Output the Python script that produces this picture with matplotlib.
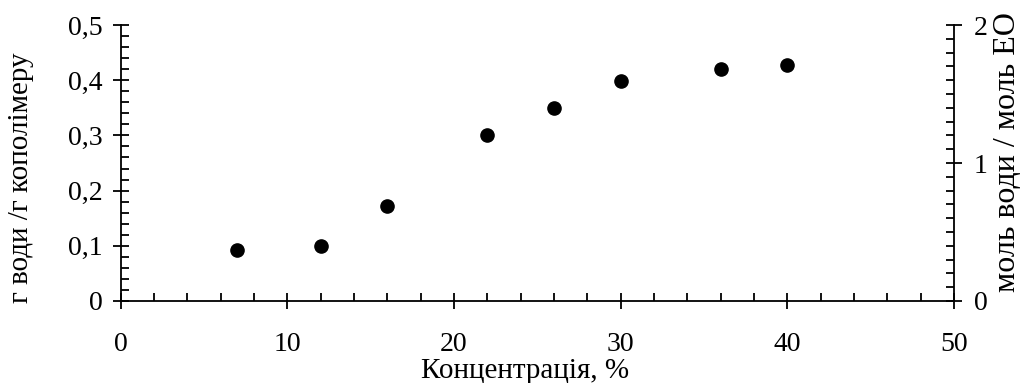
import matplotlib
matplotlib.use("Agg")
import matplotlib.pyplot as plt
from matplotlib.ticker import MultipleLocator, FuncFormatter

# Data
concentration = [7, 12, 16, 22, 26, 30, 36, 40]
water_per_copolymer = [0.092, 0.100, 0.172, 0.300, 0.350, 0.399, 0.420, 0.427]

x_label = "Концентрація, %"
left_label = "г води /г кополімеру"
right_label = "моль води / моль ЕО"

plt.rcParams['font.family'] = ['Liberation Serif', 'DejaVu Serif']
plt.rcParams['font.size'] = 20

fig = plt.figure(figsize=(10.24, 3.83), dpi=100)
ax = fig.add_axes([0.1177, 0.2141, 0.8140, 0.7206])
ax2 = ax.twinx()

ax.plot(concentration, water_per_copolymer, 'o', color='black', markersize=9.5)

ax.set_xlim(0, 50)
ax.set_ylim(0, 0.5)
ax2.set_ylim(0, 2)

for a in (ax, ax2):
    a.spines['top'].set_visible(False)
    for s in a.spines.values():
        s.set_linewidth(1.3)
ax.spines['right'].set_visible(False)
ax2.spines['left'].set_visible(False)
ax2.spines['bottom'].set_visible(False)

ax.xaxis.set_major_locator(MultipleLocator(10))
ax.xaxis.set_minor_locator(MultipleLocator(2))
ax.yaxis.set_major_locator(MultipleLocator(0.1))
ax.yaxis.set_minor_locator(MultipleLocator(0.02))
ax2.yaxis.set_major_locator(MultipleLocator(1))
ax2.yaxis.set_minor_locator(MultipleLocator(0.1))

comma = FuncFormatter(lambda v, p: ('%g' % round(v, 3)).replace('.', ','))
ax.yaxis.set_major_formatter(comma)
ax2.yaxis.set_major_formatter(comma)

ax.tick_params(axis='x', which='major', direction='inout', length=12, width=1.3, pad=16)
ax.tick_params(axis='y', which='major', direction='inout', length=12, width=1.3, pad=7)
ax.tick_params(which='minor', direction='in', length=5.5, width=1.3)
ax.tick_params(top=False, right=False, which='both')
ax2.tick_params(axis='y', which='major', direction='inout', length=12, width=1.3, pad=8)
ax2.tick_params(axis='y', which='minor', direction='in', length=5.5, width=1.3)

ax.set_xlabel(x_label, fontsize=21)
ax.xaxis.set_label_coords(0.4853, -0.205)
ax.set_ylabel(left_label, fontsize=21)
ax.yaxis.set_label_coords(-0.104, 0.446)
ax2.set_ylabel(right_label, fontsize=23)
ax2.yaxis.set_label_coords(1.047, 0.54)

fig.savefig("out.png", dpi=100)
